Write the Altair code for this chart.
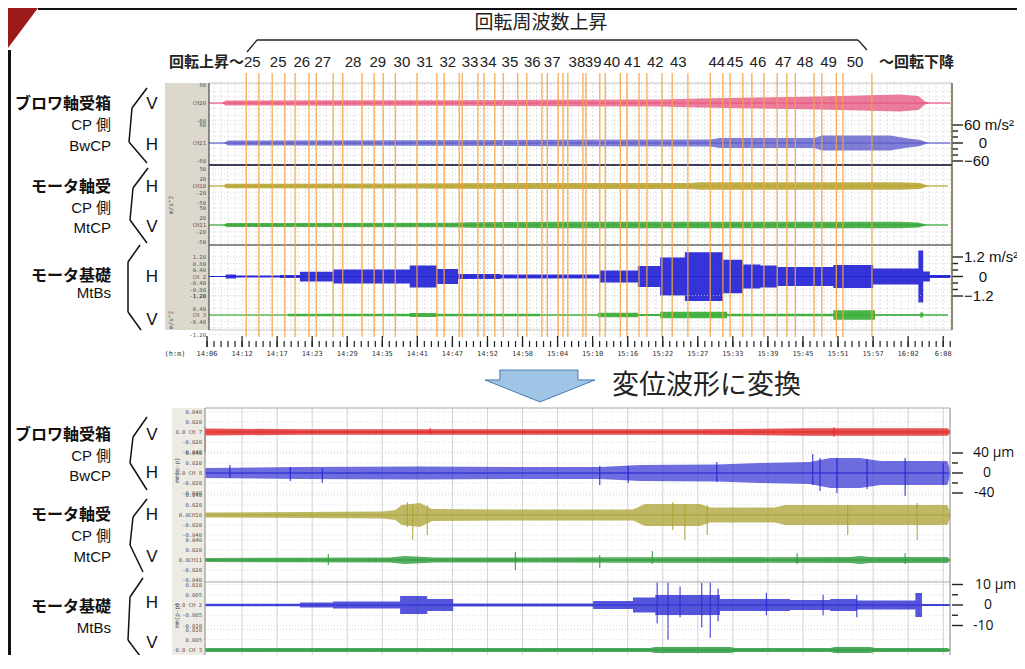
import altair as alt
import pandas as pd

# ====================== values ======================
# Time is expressed in minutes after 14:00.
TIME_LABELS = ["14:06", "14:12", "14:17", "14:23", "14:29", "14:35", "14:41",
               "14:47", "14:52", "14:58", "15:04", "15:10", "15:16", "15:22",
               "15:27", "15:33", "15:39", "15:45", "15:51", "15:57", "16:02",
               "6:08"]
TIME_FIRST = 6.0      # 14:06
TIME_STEP = 5.81      # minutes between labelled ticks
T_DOMAIN = [6.33, 129.47]

# rotation-frequency steps and the times they are written at
FREQ_LABELS = ["25", "25", "26", "27", "28", "29", "30", "31", "32", "33",
               "34", "35", "36", "37", "38", "39", "40", "41", "42", "43",
               "44", "45", "46", "47", "48", "49", "50"]
FREQ_T = [13.5, 17.8, 21.7, 25.2, 30.2, 34.3, 38.3, 42.1, 45.9, 49.6, 52.6,
          56.2, 59.9, 63.2, 67.3, 70.0, 73.1, 76.5, 80.3, 84.1, 90.5, 93.5,
          97.3, 101.5, 105.1, 109.0, 113.4]
# orange markers bounding each frequency step
STEP_LINES_T = [12.5, 14.6, 16.8, 18.9, 20.6, 22.9, 24.1, 26.9, 28.5, 31.7,
                33.7, 35.2, 37.2, 40.8, 44.1, 45.3, 47.8, 48.3, 50.9, 51.9,
                53.7, 55.1, 57.5, 59.0, 61.5, 62.4, 64.2, 65.0, 65.8, 68.3,
                68.8, 71.1, 72.0, 74.5, 75.6, 77.6, 78.9, 81.4, 83.1, 85.7,
                89.4, 91.5, 92.7, 94.8, 96.3, 98.3, 100.5, 102.1, 103.5, 106.6,
                107.9, 110.3, 111.4, 116.2]

# ---- acceleration waveforms (envelope half-amplitude, m/s^2) ----
ACC_BW_V_T = [6.3, 8.5, 9.1, 29.7, 46.3, 64.5, 81.1, 87.7, 97.7, 107.6, 114.2,
              120.8, 123.9, 125.0, 125.8, 129.2]
ACC_BW_V = [1, 1, 8, 9, 9, 11, 12, 15, 18, 22, 25, 28, 23, 5, 1, 1]

ACC_BW_H_T = [6.3, 8.8, 9.5, 38.0, 64.5, 89.4, 91.0, 106.7, 107.9, 119.2,
              121.7, 124.2, 125.5, 129.2]
ACC_BW_H = [1, 1, 8, 9, 11, 12, 17, 17, 25, 25, 17, 10, 1, 1]

ACC_MT_H_T = [6.3, 8.8, 9.1, 38.0, 64.5, 86.1, 87.7, 120.8, 124.2, 125.5, 128.8]
ACC_MT_H = [1, 1, 6.5, 7.5, 9, 9, 11, 11, 9, 1, 1]

ACC_MT_V_T = [6.3, 8.7, 9.3, 46.3, 49.6, 64.5, 120.8, 123.9, 125.3, 128.8]
ACC_MT_V = [1, 1, 6, 6.5, 8, 9.5, 9.5, 7.5, 1, 1]

ACC_BS_H_T = [6.3, 9.1, 10.8, 18.1, 21.4, 26.9, 39.6, 44.1, 47.6, 54.6, 71.1,
              77.4, 81.1, 85.2, 91.5, 94.8, 97.7, 100.5, 109.8, 116.4, 123.9,
              124.7, 125.8, 129.2]
ACC_BS_H = [0.02, 0.12, 0.06, 0.09, 0.3, 0.43, 0.68, 0.46, 0.15, 0.12, 0.37,
            0.65, 1.17, 1.5, 1.03, 0.74, 0.68, 0.58, 0.71, 0.49, 1.6, 0.31,
            0.09, 0.09]

ACC_BS_V_T = [6.3, 19.4, 39.6, 44.1, 61.2, 70.8, 77.4, 81.1, 92.2, 109.8,
              116.7, 124.2, 124.7, 128.8]
ACC_BS_V = [0.02, 0.07, 0.12, 0.07, 0.03, 0.14, 0.06, 0.2, 0.07, 0.29, 0.05,
            0.15, 0.025, 0.025]

# ---- displacement waveforms (envelope half-amplitude, um) ----
DSP_BW_V_T = [5.7, 21.4, 54.6, 87.7, 105.9, 128.7, 129.2]
DSP_BW_V = [7, 5.6, 5.6, 5.6, 7.4, 7.4, 2]
DSP_BW_V_SPK = ([5.7, 43.0, 109.9], [-40, -4, -10], [10, 8, 10])

DSP_BW_H_T = [5.7, 21.4, 41.3, 57.9, 71.1, 77.8, 90.5, 97.7, 105.9, 109.3,
              114.2, 117.6, 128.7, 129.2]
DSP_BW_H = [10, 12, 13, 12, 12, 16, 17, 20, 22, 30, 30, 24, 24, 4]
DSP_BW_H_SPK = ([9.8, 19.8, 25.1, 71.1, 75.8, 90.5, 106.4, 107.6, 110.4, 115.4,
                 121.7, 128.0],
                [-10, -16, -20, -24, -20, -18, -24, -36, -40, -32, -46, -24],
                [16, 12, 10, 14, 14, 22, 38, 30, 30, 28, 30, 20])

DSP_MT_H_T = [5.7, 21.4, 35.2, 37.2, 38.3, 41.3, 43.3, 57.9, 76.6, 78.6, 87.7,
              89.4, 100.1, 101.8, 128.7, 129.2]
DSP_MT_H = [5, 6, 7, 10, 20, 24, 12, 11, 11, 22, 22, 15, 15, 20, 20, 3]
DSP_MT_H_SPK = ([39.2, 40.1, 42.5, 83.2, 85.2, 88.9, 112.2, 123.7],
                [-24, -50, -40, -30, -50, -40, -40, -50],
                [26, 20, 20, 26, 20, 20, 20, 24])

DSP_MT_V_T = [5.7, 36.3, 38.8, 43.8, 54.6, 112.6, 114.2, 115.9, 128.7, 129.2]
DSP_MT_V = [4, 5, 8, 5, 5, 6, 8, 6, 6, 1]
DSP_MT_V_SPK = ([26.1, 57.1, 71.1, 79.8, 103.8, 121.7],
                [-10, -20, -16, -8, -8, -8],
                [12, 16, 10, 18, 14, 14])

DSP_BS_H_T = [5.7, 21.4, 26.9, 38.0, 42.5, 46.8, 70.0, 76.6, 80.3, 91.0, 102.6,
              109.3, 113.7, 123.4, 124.5, 129.2]
DSP_BS_H = [0.6, 1.2, 1.7, 4.4, 2.9, 0.7, 2.0, 3.7, 4.9, 2.9, 2.4, 2.9, 2.2,
            5.9, 0.5, 0.5]
DSP_BS_H_SPK = ([80.6, 82.4, 84.4, 88.0, 89.4, 90.7, 98.7, 108.1, 113.7],
                [-9, -17, -6, -11, -16, -8, -5, -5, -6],
                [11, 11, 9, 11, 11, 8, 6, 5, 5])

DSP_BS_V_T = [5.7, 79.4, 80.3, 92.7, 93.5, 109.3, 110.1, 115.9, 116.7, 128.7,
              129.2]
DSP_BS_V = [1, 1, 1.5, 1.5, 1, 1, 1.5, 1.5, 1, 1, 0.3]

# annotation texts
JP_LABELS = [("ブロワ軸受箱", 104), ("モータ軸受", 187), ("モータ基礎", 276),
             ("ブロワ軸受箱", 435), ("モータ軸受", 515), ("モータ基礎", 607)]
LAT_LABELS = [("CP 側", 125), ("BwCP", 146), ("CP 側", 208), ("MtCP", 228),
              ("MtBs", 293), ("CP 側", 456), ("BwCP", 476), ("CP 側", 536),
              ("MtCP", 557), ("MtBs", 628)]
VH_LABELS = [("V", 104), ("H", 145), ("H", 187), ("V", 227), ("H", 277),
             ("V", 320), ("V", 435), ("H", 473), ("H", 515), ("V", 557),
             ("H", 603), ("V", 643)]

# ============================== layout ==============================
W, H = 743, 572          # plot area shared by both panels (same time axis)
OX, OY = 209, 83         # where the plot origin sits in the picture
PAD = {"left": 201, "top": 75, "right": 65, "bottom": 0}
JP = "Noto Sans CJK JP"
LAT = "Liberation Sans, Noto Sans CJK JP"

MAJOR_T = [TIME_FIRST + TIME_STEP * i for i in range(len(TIME_LABELS))]
MINOR_T = [TIME_FIRST + TIME_STEP / 5 * k for k in range(0, 5 * len(TIME_LABELS))
           if TIME_FIRST + TIME_STEP / 5 * k <= T_DOMAIN[1]]

xs = alt.Scale(domain=T_DOMAIN, nice=False, zero=False)


def XT(f):
    return alt.X(f"{f}:Q", scale=xs, axis=None)


def XP(f):
    return alt.X(f"{f}:Q", scale=None, axis=None)


def YP(f):
    return alt.Y(f"{f}:Q", scale=None, axis=None)


def text_layer(rows, **props):
    df = pd.DataFrame([dict(s=s, x=X - OX, y=Y - OY) for s, X, Y in rows])
    return alt.Chart(df).mark_text(**props).encode(x=XP("x"), y=YP("y"), text="s:N")


def seg_layer(polylines, color, width, dash=None):
    rows = []
    for pl in polylines:
        for (a, b), (c, d) in zip(pl[:-1], pl[1:]):
            rows.append(dict(x=a - OX, y=b - OY, x2=c - OX, y2=d - OY))
    kw = dict(color=color, strokeWidth=width)
    if dash:
        kw["strokeDash"] = dash
    return alt.Chart(pd.DataFrame(rows)).mark_rule(**kw).encode(
        x=XP("x"), y=YP("y"), x2="x2:Q", y2="y2:Q")


def shape_layer(X, Y, path, size, fill, stroke, sw):
    df = pd.DataFrame({"x": [X - OX], "y": [Y - OY]})
    return alt.Chart(df).mark_point(shape=path, size=size, filled=True, fill=fill,
                                    fillOpacity=1, opacity=1, stroke=stroke,
                                    strokeWidth=sw).encode(x=XP("x"), y=YP("y"))


def vlines(times, y0, y1, **props):
    df = pd.DataFrame({"t": times})
    return alt.Chart(df).mark_rule(**props).encode(
        x=XT("t"), y=alt.value(y0 - OY), y2=alt.value(y1 - OY))


TRACES = [
    dict(panel="top", t=ACC_BW_V_T, a=ACC_BW_V, center=103, gain=0.30,
         color="#e6507a", op=0.75, interp="linear",
         ticks=([60, 0, -60], ["60", "CH20", "-60"]),
         grid=[60, 40, 20, -20, -40, -60]),
    dict(panel="top", t=ACC_BW_H_T, a=ACC_BW_H, center=143, gain=0.30,
         color="#5353c8", op=0.75, interp="linear",
         ticks=([60, 0, -60], ["60", "CH21", "-60"]),
         grid=[60, 40, 20, -20, -40, -60],
         bar=dict(long=[60, 0, -60], short=[40, 20, -20, -40], font=LAT, size=15,
                  text=[(60, "60 m/s²", 964, "left"), (0, "0", 983, "center"),
                        (-60, "−60", 964, "left")])),
    dict(panel="top", t=ACC_MT_H_T, a=ACC_MT_H, center=186, gain=0.34,
         color="#b5a22c", op=0.85, interp="linear",
         ticks=([50, 20, 0, -20, -50], ["50", "20", "CH10", "-20", "-50"]),
         grid=[50, 35, 20, -20, -35, -50]),
    dict(panel="top", t=ACC_MT_V_T, a=ACC_MT_V, center=225, gain=0.34,
         color="#33a533", op=0.85, interp="linear",
         ticks=([50, 20, 0, -20, -50], ["50", "20", "CH11", "-20", "-50"]),
         grid=[50, 35, 20, -20, -35, -50]),
    dict(panel="top", t=ACC_BS_H_T, a=ACC_BS_H, center=276.5, gain=16.25,
         color="#2323d6", op=0.92, interp="step-after",
         ticks=([1.2, 0.8, 0.4, 0, -0.4, -0.8, -1.2],
                ["1.20", "0.80", "0.40", "CH 2", "-0.40", "-0.80", "-1.20"]),
         grid=[1.2, 0.8, 0.4, -0.4, -0.8, -1.2],
         bar=dict(long=[1.2, 0, -1.2], short=[0.8, 0.4, -0.4, -0.8], font=LAT, size=15,
                  text=[(1.2, "1.2 m/s²", 964, "left"), (0, "0", 983, "center"),
                        (-1.2, "−1.2", 964, "left")])),
    dict(panel="top", t=ACC_BS_V_T, a=ACC_BS_V, center=315, gain=16.25,
         color="#35ad35", op=0.9, interp="step-after",
         ticks=([1.2, 0.4, 0, -0.4, -1.2], ["1.20", "0.40", "CH 3", "-0.40", "-1.20"]),
         grid=[1.2, 0.8, 0.4, -0.4, -0.8, -1.2]),
    # lower panel: displacement
    dict(panel="bottom", t=DSP_BW_V_T, a=DSP_BW_V, center=432, gain=0.5,
         color="#e02424", op=0.8, interp="linear", spk=DSP_BW_V_SPK,
         ticks=([40, 20, 0, -20, -40], ["0.040", "0.020", "0.0 CH 7", "-0.020", "-0.040"]),
         grid=[40, 20, -20, -40]),
    dict(panel="bottom", t=DSP_BW_H_T, a=DSP_BW_H, center=473, gain=0.5,
         color="#1f1fd0", op=0.65, interp="linear", spk=DSP_BW_H_SPK,
         ticks=([40, 20, 0, -20, -40], ["0.040", "0.020", "0.0 CH 8", "-0.020", "-0.040"]),
         grid=[40, 20, -20, -40],
         bar=dict(long=[40, 0, -40], short=[20, -20], font="Open Sans", size=14,
                  text=[(40, "40 µm", 973, "left"), (0, "0", 987, "center"),
                        (-40, "-40", 974, "left")])),
    dict(panel="bottom", t=DSP_MT_H_T, a=DSP_MT_H, center=515, gain=0.5,
         color="#a9a232", op=0.75, interp="linear", spk=DSP_MT_H_SPK,
         ticks=([40, 20, 0, -20, -40], ["0.040", "0.020", "0.0CH10", "-0.020", "-0.040"]),
         grid=[40, 20, -20, -40]),
    dict(panel="bottom", t=DSP_MT_V_T, a=DSP_MT_V, center=560, gain=0.5,
         color="#2c9a3a", op=0.8, interp="linear", spk=DSP_MT_V_SPK,
         ticks=([40, 20, 0, -20, -40], ["0.040", "0.020", "0.0CH11", "-0.020", "-0.040"]),
         grid=[40, 20, -20, -40]),
    dict(panel="bottom", t=DSP_BS_H_T, a=DSP_BS_H, center=605, gain=2.05,
         color="#2b2bd2", op=0.8, interp="step-after", spk=DSP_BS_H_SPK,
         ticks=([10, 5, 0, -5, -10], ["0.010", "0.005", "0.0 CH 2", "-0.005", "-0.010"]),
         grid=[10, 5, -5, -10],
         bar=dict(long=[10, 0, -10], short=[5, -5], font="Open Sans", size=14,
                  text=[(10, "10 µm", 975, "left"), (0, "0", 988, "center"),
                        (-10, "-10", 973, "left")])),
    dict(panel="bottom", t=DSP_BS_V_T, a=DSP_BS_V, center=650, gain=2.05,
         color="#2e9a40", op=0.85, interp="linear",
         ticks=([10, 5, 0, -5, -10], ["0.010", "0.005", "0.0 CH 3", "-0.005", "-0.010"]),
         grid=[10, 5, -5, -10]),
]


def trace_layer(tr):
    c = tr["center"] - OY
    g = tr["gain"]
    ys = alt.Scale(domain=[-(H - c) / g, c / g], nice=False, zero=False)

    def Y(f):
        return alt.Y(f"{f}:Q", scale=ys, axis=None)

    top = tr["panel"] == "top"
    gx0, gx1 = (0, W) if top else (205 - OX, 950 - OX)
    out = []
    out.append(alt.Chart(pd.DataFrame({"v": tr["grid"]})).mark_rule(
        color="#cdcdcd", strokeWidth=0.7, strokeDash=[1, 2]).encode(
        x=alt.value(gx0), x2=alt.value(gx1), y=Y("v")))
    lab = pd.DataFrame({"v": tr["ticks"][0], "s": tr["ticks"][1]})
    out.append(alt.Chart(lab).mark_text(
        align="right", baseline="middle", font="DejaVu Sans Mono", fontSize=5.5,
        color="#555").encode(x=alt.value(-3 if top else -7), y=Y("v"), text="s:N"))
    cl = pd.DataFrame({"t0": [tr["t"][0]], "t1": [tr["t"][-1]], "v": [0]})
    out.append(alt.Chart(cl).mark_rule(color=tr["color"], strokeWidth=1.2).encode(
        x=XT("t0"), x2="t1:Q", y=Y("v")))
    env = pd.DataFrame({"t": tr["t"], "hi": tr["a"]})
    env["lo"] = -env["hi"]
    out.append(alt.Chart(env).mark_area(
        color=tr["color"], opacity=tr["op"], interpolate=tr["interp"]).encode(
        x=XT("t"), y=Y("hi"), y2="lo:Q"))
    if "spk" in tr:
        st, lo, hi = tr["spk"]
        sdf = pd.DataFrame({"t": st, "lo": lo, "hi": hi})
        out.append(alt.Chart(sdf).mark_rule(color=tr["color"], strokeWidth=1).encode(
            x=XT("t"), y=Y("lo"), y2="hi:Q"))
    if "bar" in tr:
        b = tr["bar"]
        out.append(alt.Chart(pd.DataFrame({"v": b["long"]})).mark_rule(
            color="#222", strokeWidth=1.4).encode(
            x=alt.value(952 - OX), x2=alt.value(963 - OX), y=Y("v")))
        out.append(alt.Chart(pd.DataFrame({"v": b["short"]})).mark_rule(
            color="#222", strokeWidth=1.4).encode(
            x=alt.value(952 - OX), x2=alt.value(958 - OX), y=Y("v")))
        for v, s, X, al in b["text"]:
            out.append(alt.Chart(pd.DataFrame({"v": [v], "s": [s]})).mark_text(
                align=al, baseline="middle", font=b["font"], fontSize=b["size"],
                color="#111").encode(x=alt.value(X - OX), y=Y("v"), text="s:N"))
    return alt.layer(*out)


layers = []

# label columns of the recorder screens
box_df = pd.DataFrame([
    dict(x=165 - OX, y=83 - OY, x2=209 - OX, y2=330 - OY, f="#dcd8ce"),
    dict(x=172 - OX, y=408 - OY, x2=205 - OX, y2=H, f="#eeebe4"),
])
layers.append(alt.Chart(box_df).mark_rect().encode(
    x=XP("x"), x2="x2:Q", y=YP("y"), y2="y2:Q", color=alt.Color("f:N", scale=None)))

# grids
layers.append(vlines([t for t in MINOR_T if t > T_DOMAIN[0]], 83, 330,
                     color="#d3d3d3", strokeWidth=0.7, strokeDash=[2, 2]))
layers.append(vlines([t for t in MINOR_T if t > T_DOMAIN[0]], 408, OY + H,
                     color="#ececec", strokeWidth=0.6, strokeDash=[1, 2]))
layers.append(vlines([t for t in MAJOR_T if t > T_DOMAIN[0]], 408, OY + H,
                     color="#cfcfcf", strokeWidth=0.9))

# traces
for tr in TRACES:
    layers.append(trace_layer(tr))

# panel frames and separators
layers.append(seg_layer([[(209, 83), (952, 83)], [(209, 330), (952, 330)]], "#c4c4c4", 1))
layers.append(seg_layer([[(209, 83), (209, 330)]], "#555555", 1.3))
layers.append(seg_layer([[(952, 83), (952, 330)]], "#7a6a55", 1.6))
layers.append(seg_layer([[(209, 165), (952, 165)]], "#3b3f58", 2))
layers.append(seg_layer([[(209, 245), (952, 245)]], "#666666", 1.4))
layers.append(seg_layer([[(205, 408), (950, 408)], [(205, 582), (950, 582)]], "#a8a8a8", 1))
layers.append(seg_layer([[(205, 408), (205, OY + H)], [(950, 408), (950, OY + H)]], "#9a9a9a", 1.2))

# orange frequency-step markers
layers.append(vlines(STEP_LINES_T, 73, 337, color="#f6a240", strokeWidth=1.3, opacity=0.9))

# time ruler under the upper panel
layers.append(vlines(MINOR_T, 341, 347, color="#222", strokeWidth=1.2))
layers.append(vlines(MAJOR_T, 336, 347, color="#222", strokeWidth=1.3))
tl = pd.DataFrame({"t": MAJOR_T, "s": TIME_LABELS})
layers.append(alt.Chart(tl).mark_text(font="DejaVu Sans Mono", fontSize=7, color="#333",
                                      baseline="middle").encode(
    x=XT("t"), y=alt.value(354 - OY), text="s:N"))
layers.append(text_layer([("(h:m)", 175, 354)], font="DejaVu Sans Mono", fontSize=7,
                         color="#333", baseline="middle"))

# frequency labels and heading
fl = pd.DataFrame({"t": FREQ_T, "s": FREQ_LABELS})
layers.append(alt.Chart(fl).mark_text(font="Liberation Sans", fontSize=15, color="#222",
                                      baseline="middle").encode(
    x=XT("t"), y=alt.value(62 - OY), text="s:N"))
layers.append(text_layer([("回転上昇～", 244, 62)], font=JP, fontSize=15, fontWeight="bold",
                         color="#222", align="right", baseline="middle"))
layers.append(text_layer([("～回転下降", 879, 62)], font=JP, fontSize=15, fontWeight="bold",
                         color="#222", align="left", baseline="middle"))
layers.append(text_layer([("回転周波数上昇", 541, 23)], font=JP, fontSize=19, color="#222",
                         align="center", baseline="middle"))
layers.append(seg_layer([[(247, 52), (257, 40), (858, 40), (867, 50)]], "#222", 1.3))

# channel group annotations
layers.append(text_layer([(s, 111, y) for s, y in JP_LABELS], font=JP, fontSize=16,
                         fontWeight="bold", color="#111", align="right", baseline="middle"))
layers.append(text_layer([(s, 111, y) for s, y in LAT_LABELS], font=LAT, fontSize=15,
                         color="#111", align="right", baseline="middle"))
layers.append(text_layer([(s, 152, y) for s, y in VH_LABELS], font="Liberation Sans",
                         fontSize=17, color="#111", align="center", baseline="middle"))
BRACES = [
    [(147, 88), (132, 108), (129, 142), (147, 163)],
    [(148, 168), (133, 188), (130, 220), (147, 243)],
    [(140, 245), (128, 262), (128, 312), (141, 330)],
    [(147, 417), (133, 437), (130, 463), (147, 490)],
    [(147, 499), (133, 517), (130, 545), (143, 572)],
    [(143, 578), (130, 597), (128, 640), (143, 660)],
]
layers.append(seg_layer(BRACES, "#111", 1.5))

# unit captions in the label columns
layers.append(text_layer([("m/s^2", 171, 205), ("m/s^2", 171, 320)],
                         font="DejaVu Sans Mono", fontSize=6, color="#555", angle=270,
                         align="center", baseline="middle"))
layers.append(text_layer([("mm(p-p)", 177, 470), ("mm(p-p)", 177, 615)],
                         font="DejaVu Sans Mono", fontSize=6, color="#555", angle=270,
                         align="center", baseline="middle"))

# conversion arrow
ARROW = "M -0.73 -0.29 L 0.69 -0.29 L 0.69 -0.11 L 1 -0.11 L 0 0.29 L -1 -0.11 L -0.73 -0.11 Z"
layers.append(shape_layer(540, 386, ARROW, 12100, "#9fc4e6", "#4a7bb0", 1))
layers.append(text_layer([("変位波形に変換", 612, 386)], font=JP, fontSize=27, color="#222",
                         align="left", baseline="middle"))

# slide frame
layers.append(shape_layer(28, 28, "M -1 -1 L 0.5 -1 L -1 1 Z", 1600, "#9b1b1b", "#9b1b1b", 0))
layers.append(seg_layer([[(38, 9), (1017, 9)]], "#111", 2))
layers.append(seg_layer([[(9.5, 50), (9.5, OY + H)]], "#111", 3))

chart = alt.layer(*layers).resolve_scale(y="independent").properties(
    width=W, height=H, padding=PAD,
    autosize=alt.AutoSizeParams(type="none"),
    background="white",
).configure_view(stroke="transparent")

chart.save("out.html", embed_options={"renderer": "svg", "actions": False})
